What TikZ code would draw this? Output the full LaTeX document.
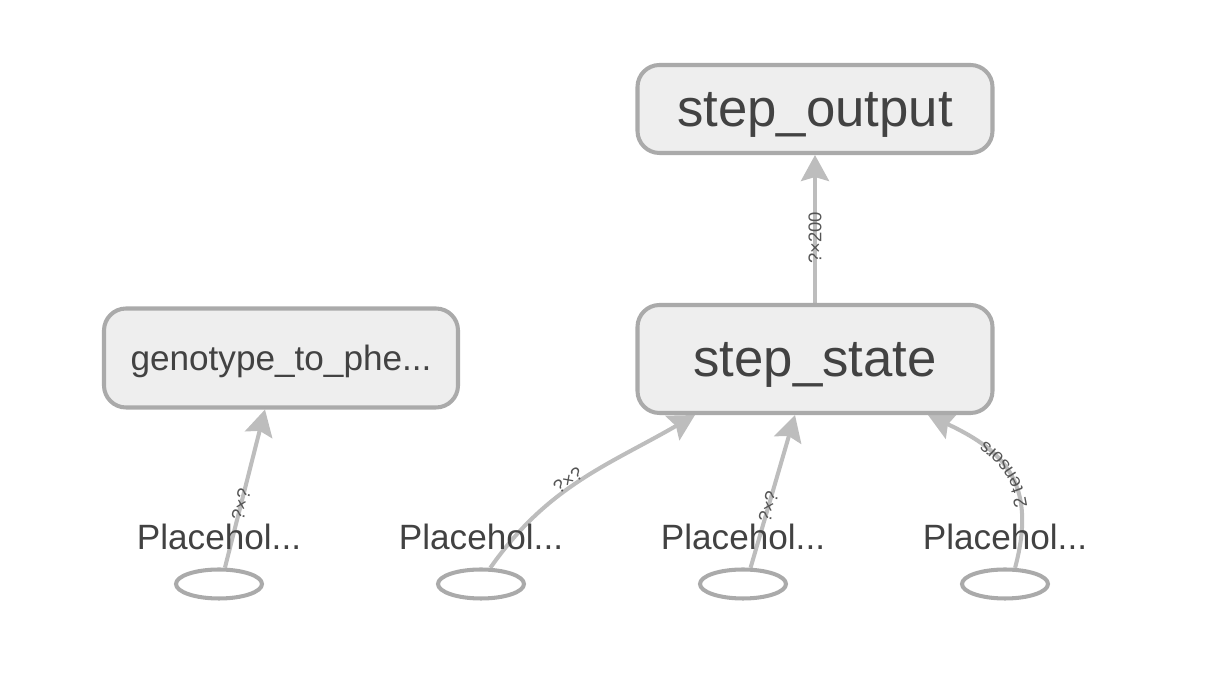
\documentclass[tikz,border=0pt]{standalone}
\usepackage{fontspec}
\setmainfont{Liberation Sans}
\usetikzlibrary{arrows.meta,shapes.geometric,decorations.text,backgrounds}
\tikzset{>=stealth}
\definecolor{boxfill}{HTML}{EEEEEE}
\definecolor{boxline}{HTML}{AAAAAA}
\definecolor{edgeline}{HTML}{BDBDBD}
\definecolor{inktext}{HTML}{424242}
\definecolor{edgetext}{HTML}{555555}

\begin{document}
\begin{tikzpicture}[
  opbox/.style={draw=boxline, fill=boxfill, line width=2.3pt, rounded corners=0.44cm, text=inktext, text depth=0pt},
  phshape/.style={ellipse, draw=boxline, line width=2.3pt, minimum width=1.72cm, minimum height=0.58cm, inner sep=0pt},
  phlabel/.style={text=inktext, font=\fontsize{20}{24}\selectfont},
  flow/.style={draw=edgeline, line width=2.3pt, -{Stealth[length=0.52cm, width=0.56cm, inset=0.08cm]}},
  dimlbl/.style={sloped, text=edgetext, font=\fontsize{10.5}{12}\selectfont, inner sep=1pt}
]
  \useasboundingbox (0, 0) rectangle (24.12, 14);

  % op nodes
  \node[opbox, minimum width=7.1cm, minimum height=1.76cm, font=\fontsize{30}{36}\selectfont]
    (output) at (16.3, 11.82) {step\_output};
  \node[opbox, minimum width=7.1cm, minimum height=2.16cm, font=\fontsize{30}{36}\selectfont]
    (state) at (16.3, 6.82) {step\_state};
  \node[opbox, minimum width=7.08cm, minimum height=1.98cm, font=\fontsize{20}{24}\selectfont]
    (geno) at (5.62, 6.84) {genotype\_to\_phe...};

  % placeholders
  \foreach \i/\x in {1/4.38, 2/9.62, 3/14.86, 4/20.1} {
    \node[phshape] (ph\i) at (\x, 2.32) {};
    \node[phlabel] (phl\i) at (\x, 3.26) {Placehol...};
  }

  \begin{scope}[on background layer]
    \draw[flow] (ph1.70) -- ([xshift=-0.32cm]geno.south)
      node[dimlbl, pos=0.4] {?×?};
    \draw[flow] (ph2.60) to[out=55, in=210]
      node[dimlbl, pos=0.45, above=-2pt] {?×?} ([xshift=-2.4cm]state.south);
    \draw[flow] (ph3.65) -- ([xshift=-0.4cm]state.south)
      node[dimlbl, pos=0.4] {?×?};
    \draw[flow, postaction={decorate, decoration={text along path,
        text={|\fontsize{10.5}{12}\selectfont\color{edgetext}|2 tensors},
        text align=center, raise=-3.5pt}}]
      (ph4.58) to[out=75, in=-25, looseness=1.25] ([xshift=2.26cm]state.south);
    \draw[flow] (state.north) -- (output.south)
      node[dimlbl, pos=0.44] {?×200};
  \end{scope}
\end{tikzpicture}
\end{document}
